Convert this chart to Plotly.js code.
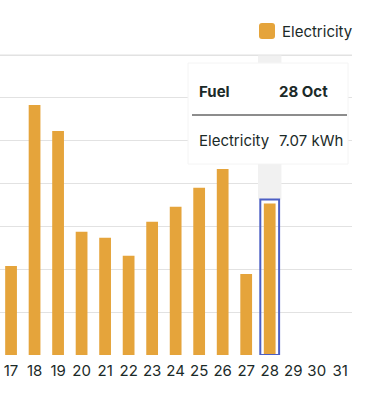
<!DOCTYPE html>
<html>
<head>
<meta charset="utf-8">
<script src="https://cdn.plot.ly/plotly-3.0.1.min.js"></script>
<style>
html,body{margin:0;padding:0;background:#fff;}
#chart{width:384px;height:394px;}
</style>
</head>
<body>
<div id="chart"></div>
<script>
// Data (days of October shown in the visible window)
const days = [17, 18, 19, 20, 21, 22, 23, 24, 25, 26, 27, 28, 29, 30, 31];
const electricity = [4.15, 11.67, 10.45, 5.75, 5.47, 4.63, 6.22, 6.92, 7.81, 8.68, 3.78, 7.07, null, null, null];
const tickLabels = ["17","18","19","20","21","22","23","24","25","26","27","28","29","30","31"];
const gridValues = [0, 2, 4, 6, 8, 10, 12, 14];
const seriesName = "Electricity";
const unit = "kWh";
const month = "Oct";
const selectedDay = 28;

const ORANGE = "#E5A43B";
const TEXT = "#1B2A28";
const GRID = "#E2E2E2";
const FONT = "Inter, 'Noto Sans', sans-serif";

const selIdx = days.indexOf(selectedDay);
const selVal = electricity[selIdx];
const yTop = gridValues[gridValues.length - 1];

const trace = {
  type: "bar",
  x: days,
  y: electricity,
  name: seriesName,
  width: 0.5,
  marker: {color: ORANGE},
  hoverinfo: "none",
  showlegend: false
};

// plot area: x 0..352, y 49..355 (px)
const W = 352, TOP = 49, BOT = 355;
const px = v => v / W;
const py = v => (BOT - v) / (BOT - TOP);

const layout = {
  width: 384,
  height: 394,
  margin: {l: 0, r: 32, t: TOP, b: 394 - BOT},
  paper_bgcolor: "#fff",
  plot_bgcolor: "#fff",
  font: {family: FONT, color: TEXT, size: 15},
  bargap: 0.5,
  xaxis: {
    range: [16.53, 31.5],
    tickvals: days,
    ticktext: tickLabels,
    showgrid: false,
    zeroline: false,
    showline: false,
    ticks: "",
    ticklabelstandoff: 5,
    tickfont: {size: 15, color: TEXT, family: FONT},
    fixedrange: true
  },
  yaxis: {
    range: [0, 14.28],
    tickvals: gridValues,
    showticklabels: false,
    gridcolor: GRID,
    gridwidth: 1,
    zeroline: false,
    showline: false,
    fixedrange: true
  },
  shapes: [
    // hover column highlight
    {type: "rect", layer: "between", xref: "x", yref: "y",
     x0: selectedDay - 0.5, x1: selectedDay + 0.5, y0: selVal + 0.19, y1: yTop,
     fillcolor: "#F1F1F1", line: {width: 0}},
    // top grid line (explicit, above the highlight column)
    {type: "line", layer: "above", xref: "x", yref: "y",
     x0: 16.53, x1: 31.5, y0: yTop, y1: yTop,
     line: {color: GRID, width: 1.2}},
    // selected bar outline
    {type: "rect", layer: "above", xref: "x", yref: "y",
     x0: selectedDay - 0.4, x1: selectedDay + 0.4, y0: 0, y1: selVal + 0.19,
     fillcolor: "rgba(0,0,0,0)", line: {color: "#4C5FC4", width: 2}},
    // tooltip box
    {type: "rect", layer: "above", xref: "paper", yref: "paper",
     x0: px(188), x1: px(348), y0: py(164), y1: py(63),
     fillcolor: "#FFFFFF", line: {color: "#F4F4F4", width: 1}},
    // tooltip separator line
    {type: "line", layer: "above", xref: "paper", yref: "paper",
     x0: px(192), x1: px(347), y0: py(115), y1: py(115),
     line: {color: "#1A1A1A", width: 1}},
    // legend swatch (rounded square)
    {type: "path", layer: "above", xref: "paper", yref: "paper",
     path: "",
     fillcolor: ORANGE, line: {width: 0}}
  ],
  annotations: [
    {xref: "paper", yref: "paper", x: px(197), y: py(92), xanchor: "left", yanchor: "middle",
     text: "<b>Fuel</b>", showarrow: false, font: {size: 15, color: TEXT, family: FONT}},
    {xref: "paper", yref: "paper", x: px(277), y: py(92), xanchor: "left", yanchor: "middle",
     text: "<b>" + selectedDay + " " + month + "</b>", showarrow: false, font: {size: 15, color: TEXT, family: FONT}},
    {xref: "paper", yref: "paper", x: px(197), y: py(140), xanchor: "left", yanchor: "middle",
     text: seriesName, showarrow: false, font: {size: 15, color: TEXT, family: FONT}},
    {xref: "paper", yref: "paper", x: px(277), y: py(140), xanchor: "left", yanchor: "middle",
     text: selVal.toFixed(2) + " " + unit, showarrow: false, font: {size: 15, color: TEXT, family: FONT}},
    {xref: "paper", yref: "paper", x: px(280), y: py(31.5), xanchor: "left", yanchor: "middle",
     text: seriesName, showarrow: false, font: {size: 15, color: TEXT, family: FONT}}
  ]
};

// rounded legend swatch path in paper coords: x 259..275, y 23..39, radius 3
(function(){
  const x0 = 259, x1 = 275, y0 = 23, y1 = 39, r = 3;
  const X = v => px(v), Y = v => py(v);
  const p = [
    "M", X(x0 + r), Y(y0),
    "L", X(x1 - r), Y(y0),
    "Q", X(x1), Y(y0), X(x1), Y(y0 + r),
    "L", X(x1), Y(y1 - r),
    "Q", X(x1), Y(y1), X(x1 - r), Y(y1),
    "L", X(x0 + r), Y(y1),
    "Q", X(x0), Y(y1), X(x0), Y(y1 - r),
    "L", X(x0), Y(y0 + r),
    "Q", X(x0), Y(y0), X(x0 + r), Y(y0), "Z"
  ];
  let s = "";
  for (let i = 0; i < p.length; i++) {
    const t = p[i];
    s += (typeof t === "number") ? t.toFixed(5) + (i + 1 < p.length && typeof p[i+1] === "number" ? "," : " ") : t;
  }
  layout.shapes[5].path = s;
})();

Plotly.newPlot("chart", [trace], layout, {displayModeBar: false, staticPlot: true});
</script>
</body>
</html>
